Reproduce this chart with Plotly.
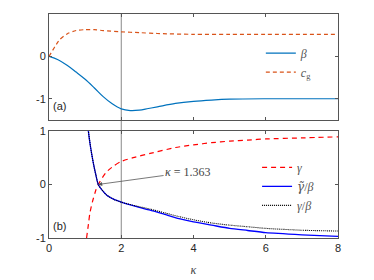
import plotly.graph_objects as go

# ---- data ----
k_beta = [0, 0.25, 0.5, 0.75, 1.0, 1.25, 1.5, 1.75, 2.0, 2.25, 2.5, 2.75, 3.0, 3.5, 4.0, 4.5, 5, 6, 7, 8]
beta = [0, -0.08, -0.21, -0.37, -0.54, -0.74, -0.95, -1.12, -1.24, -1.28, -1.27, -1.23, -1.19, -1.11, -1.06, -1.03, -1.01, -1.0, -1.0, -1.0]

k_cg = [0, 0.1, 0.2, 0.3, 0.5, 0.75, 1.0, 1.25, 1.5, 2.0, 2.5, 3, 4, 5, 6, 8]
cg = [0, 0.14, 0.28, 0.4, 0.53, 0.61, 0.63, 0.63, 0.61, 0.58, 0.56, 0.54, 0.52, 0.52, 0.52, 0.52]

k_gamma = [1.04, 1.1, 1.13, 1.2, 1.3, 1.363, 1.5, 1.6, 1.8, 2.0, 2.33, 2.8, 3.5, 4.0, 4.5, 5.0, 5.5, 6.0, 7.0, 8.0]
gamma = [-1.0, -0.7, -0.54, -0.33, -0.1, 0.0, 0.15, 0.24, 0.35, 0.43, 0.5, 0.58, 0.69, 0.74, 0.78, 0.81, 0.83, 0.85, 0.87, 0.89]

k_ratio = [1.07, 1.09, 1.15, 1.23, 1.3, 1.363, 1.5, 1.6, 1.8, 2.0, 2.4, 2.8, 3.2, 3.6, 4.0, 4.5, 5.0, 5.5, 6.0, 7.0, 8.0]
gt_beta = [1.2, 1.0, 0.7, 0.39, 0.17, 0.0, -0.13, -0.2, -0.28, -0.33, -0.41, -0.48, -0.56, -0.64, -0.70, -0.76, -0.82, -0.86, -0.90, -0.94, -0.97]
g_beta = [1.2, 1.0, 0.7, 0.39, 0.17, 0.0, -0.13, -0.2, -0.28, -0.33, -0.40, -0.46, -0.53, -0.60, -0.66, -0.72, -0.76, -0.79, -0.82, -0.855, -0.87]

k_cross = 1.363
x_ticks = [0, 2, 4, 6, 8]
y_ticks = [-1, 0, 1]
y_ticktext = ["-1", "0", "1"]

# ---- figure ----
fig = go.Figure()
fig.add_trace(go.Scatter(x=k_beta, y=beta, mode="lines", name="<i>β</i>",
                         line=dict(color="#0072BD", width=1.2, shape="spline", smoothing=1.0),
                         xaxis="x", yaxis="y", legend="legend"))
fig.add_trace(go.Scatter(x=k_cg, y=cg, mode="lines", name="<i>c</i><sub>g</sub>",
                         line=dict(color="#D95319", width=1.2, dash="4px,3px", shape="spline", smoothing=0.8),
                         xaxis="x", yaxis="y", legend="legend"))
fig.add_trace(go.Scatter(x=k_gamma, y=gamma, mode="lines", name="<i>γ</i>",
                         line=dict(color="#FF0000", width=1.2, dash="5px,4px", shape="spline", smoothing=0.6),
                         xaxis="x2", yaxis="y2", legend="legend2"))
fig.add_trace(go.Scatter(x=k_ratio, y=gt_beta, mode="lines",
                         name="<span style='font-family:DejaVu Serif'><i>γ̃</i></span>/<i>β</i>",
                         line=dict(color="#0000FF", width=1.3, shape="spline", smoothing=0.6),
                         xaxis="x2", yaxis="y2", legend="legend2"))
fig.add_trace(go.Scatter(x=k_ratio, y=g_beta, mode="lines", name="<i>γ</i>/<i>β</i>",
                         line=dict(color="#000000", width=1.1, dash="1px,1px", shape="spline", smoothing=0.6),
                         xaxis="x2", yaxis="y2", legend="legend2"))

axis_common = dict(showline=True, linecolor="#555555", linewidth=1, mirror="ticks",
                   ticks="inside", ticklen=3, tickcolor="#555555", showgrid=False, zeroline=False,
                   automargin=False,
                   tickfont=dict(family="Liberation Sans, Arial", size=11, color="#262626"))

legend_font = dict(family="Liberation Serif", size=12, color="#555555")

fig.update_layout(
    width=374, height=280,
    margin=dict(l=41, r=44, t=6, b=50),
    paper_bgcolor="white", plot_bgcolor="white",
    xaxis=dict(domain=[0, 1], range=[0, 8], tickvals=x_ticks, showticklabels=False,
               anchor="y", **axis_common),
    yaxis=dict(domain=[0.527, 1], range=[-1.5, 1], tickvals=y_ticks, ticktext=y_ticktext,
               anchor="x", **axis_common),
    xaxis2=dict(domain=[0, 1], range=[0, 8], tickvals=x_ticks, anchor="y2",
                title=dict(text="<i>κ</i>", font=dict(family="Liberation Serif", size=12, color="#444444"),
                           standoff=12),
                **axis_common),
    yaxis2=dict(domain=[0, 0.478], range=[-1, 1], tickvals=y_ticks, ticktext=y_ticktext,
                anchor="x2", **axis_common),
    legend=dict(x=0.733, y=0.89, xanchor="left", yanchor="top", bgcolor="rgba(0,0,0,0)",
                font=legend_font, tracegroupgap=0, itemwidth=30, borderwidth=0),
    legend2=dict(x=0.72, y=0.38, xanchor="left", yanchor="top", bgcolor="rgba(0,0,0,0)",
                 font=legend_font, tracegroupgap=0, itemwidth=30, borderwidth=0),
    showlegend=True,
)

# vertical line at kappa = 2 spanning both panels
fig.add_shape(type="line", xref="x", yref="paper", x0=2, x1=2, y0=0, y1=1,
              line=dict(color="#888888", width=1), layer="below")

# panel labels
fig.add_annotation(text="(a)", xref="x", yref="y", x=0.05, y=-1.18, xanchor="left", yanchor="middle",
                   showarrow=False, font=dict(family="Liberation Sans, Arial", size=11, color="#262626"))
fig.add_annotation(text="(b)", xref="x2", yref="y2", x=0.05, y=-0.77, xanchor="left", yanchor="middle",
                   showarrow=False, font=dict(family="Liberation Sans, Arial", size=11, color="#262626"))

# arrow annotation with label
fig.add_annotation(x=k_cross, y=0, xref="x2", yref="y2", ax=3.85, ay=0.23, axref="x2", ayref="y2",
                   text="<i>κ</i> = 1.363", showarrow=True, arrowhead=2, arrowsize=1, arrowwidth=0.8,
                   arrowcolor="#555555", standoff=0,
                   font=dict(family="Liberation Serif", size=12, color="#444444"))

fig.write_html("out.html")
